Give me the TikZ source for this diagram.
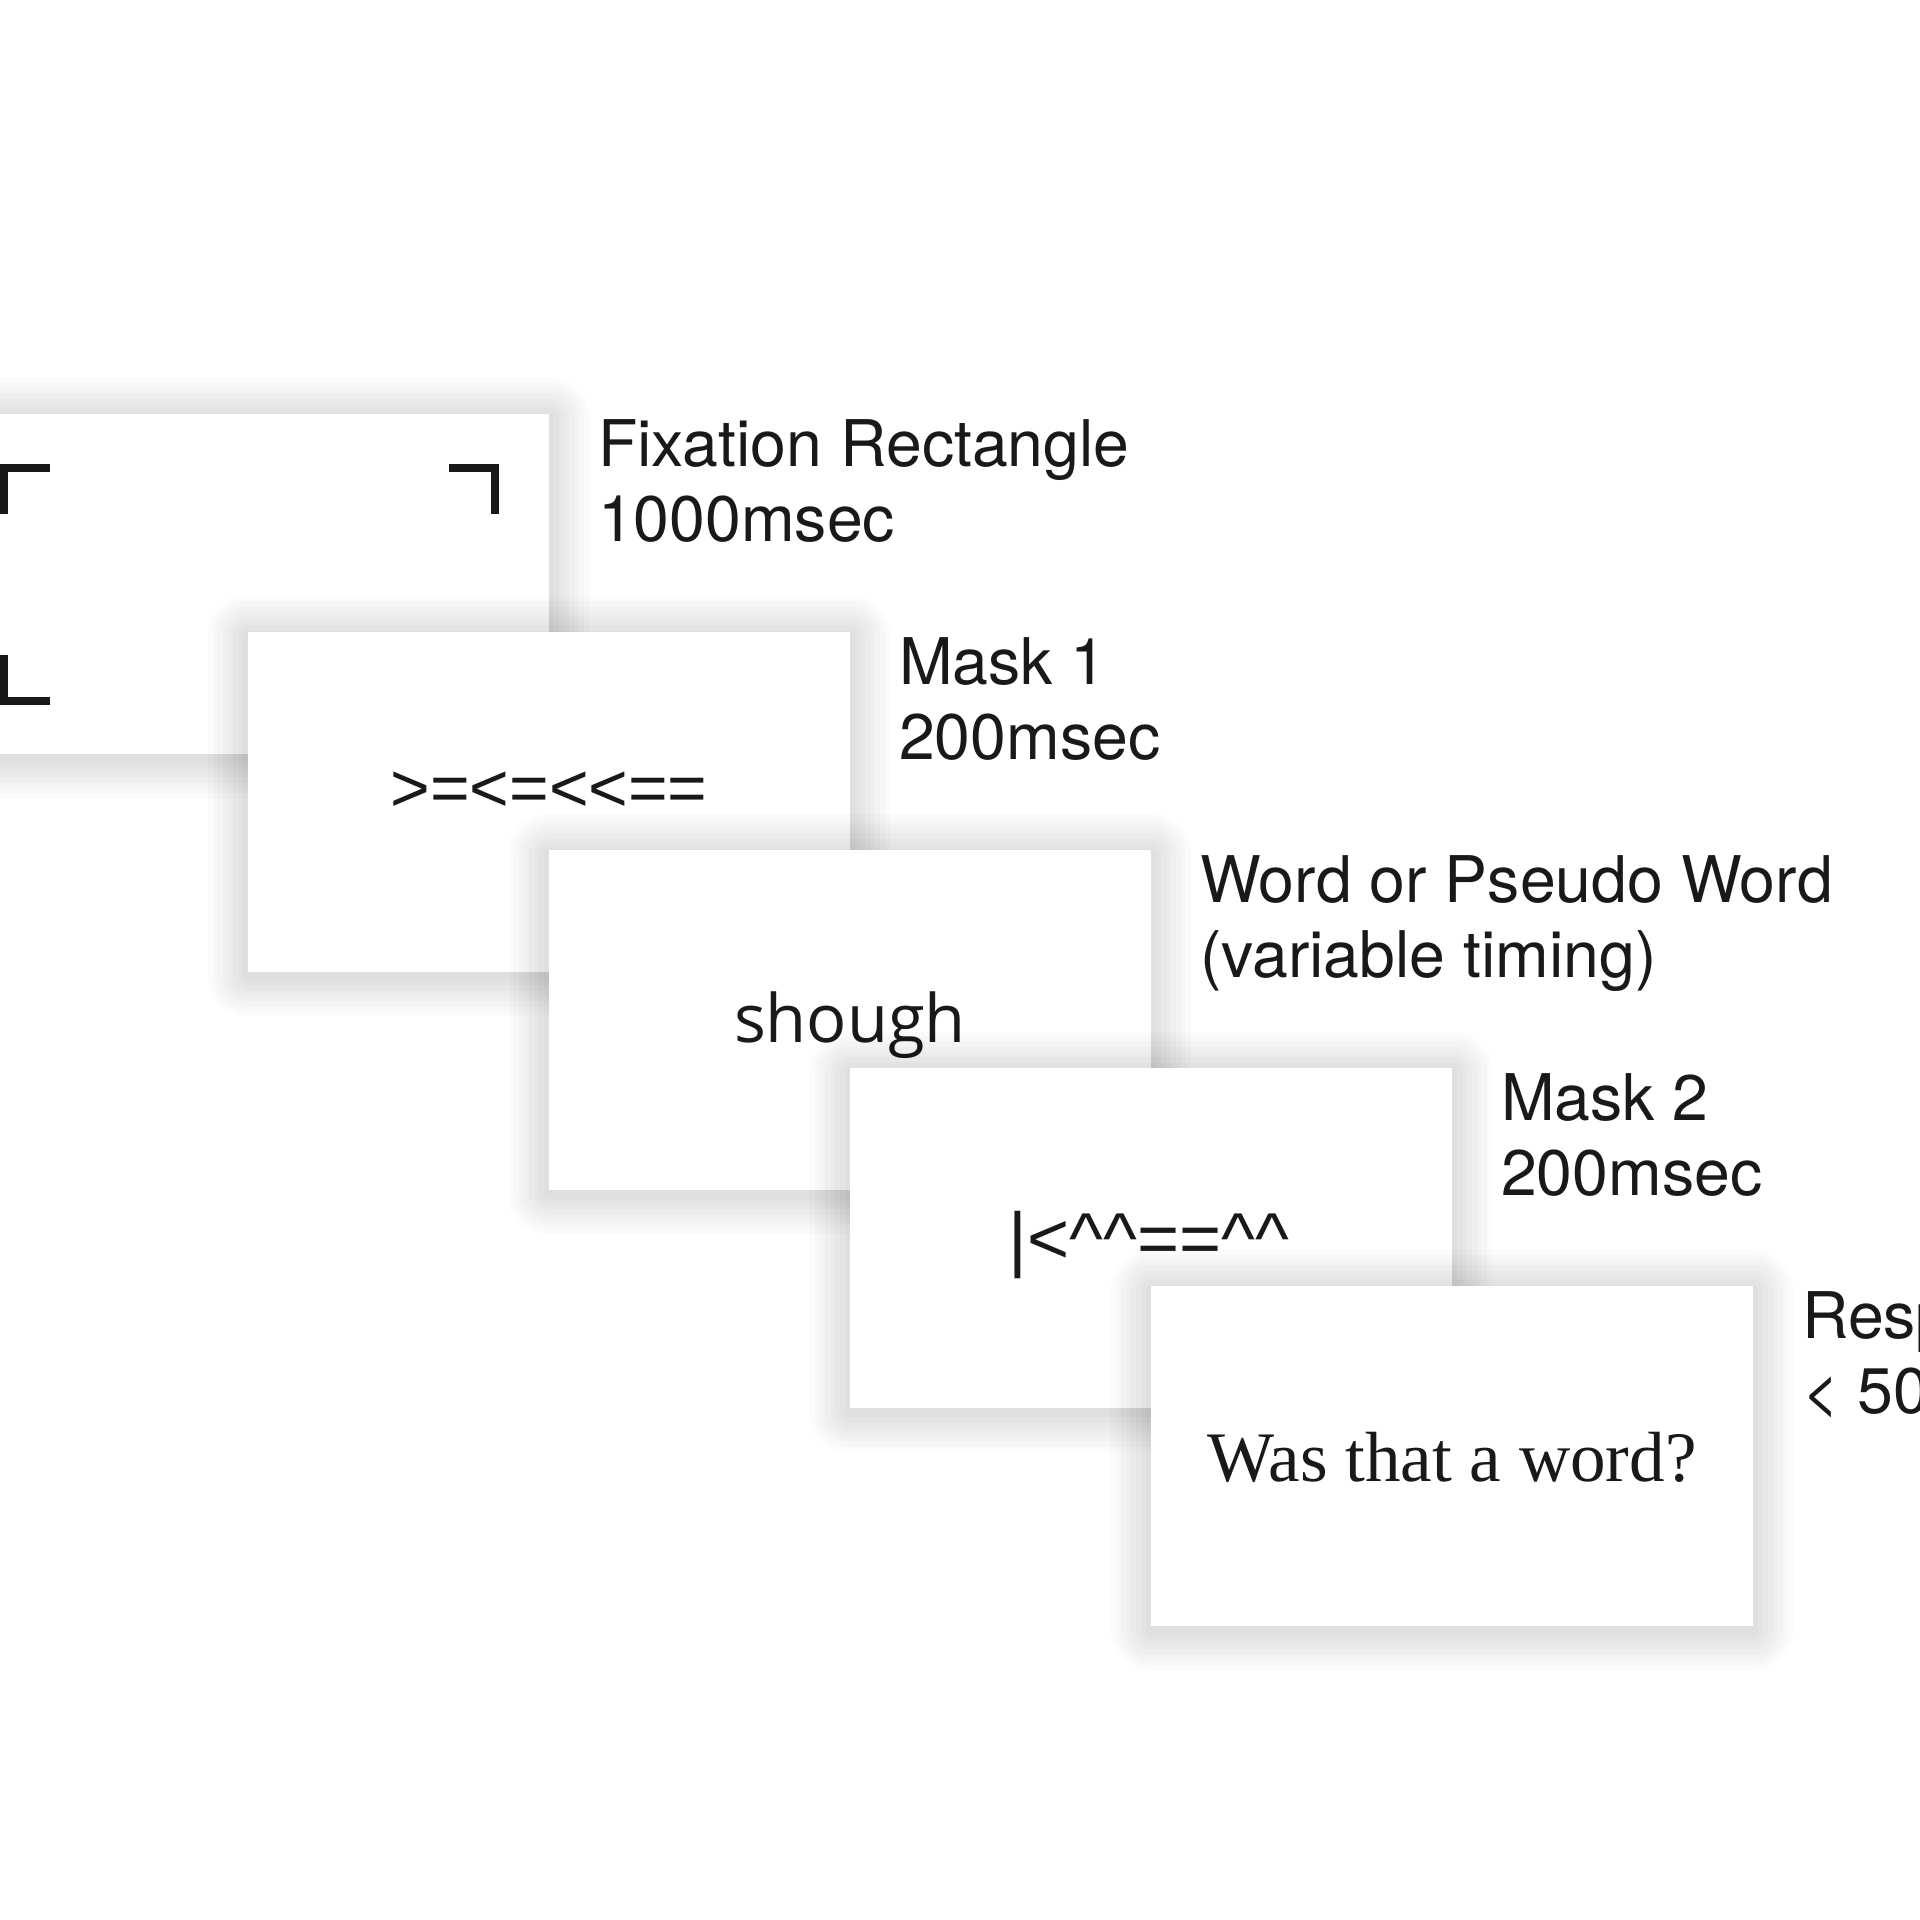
\documentclass[tikz,border=0pt]{standalone}
\usepackage{fontspec}
\setmainfont{TeX Gyre Heros}
\newfontfamily\maskfont{Liberation Sans}
\newfontfamily\wordfont{Open Sans}
\newfontfamily\askfont{Liberation Serif}
\usetikzlibrary{positioning}

\begin{document}
\begin{tikzpicture}[x=0.01cm,y=-0.01cm,
  haze/.style={draw=black, draw opacity=0.016, line width=#1, line join=round, transform canvas={yshift=-0.04cm}},
  screen/.style={fill=white, inner sep=0pt, minimum width=6.01cm, minimum height=3.39cm,
    preaction={haze=0.80cm}, preaction={haze=0.70cm}, preaction={haze=0.60cm}, preaction={haze=0.50cm},
    preaction={haze=0.40cm}, preaction={haze=0.30cm}, preaction={haze=0.20cm}, preaction={haze=0.10cm}},
  stimtext/.style={inner sep=0pt, anchor=base, text=black!90},
  steplabel/.style={inner sep=0pt, align=left, font=\fontsize{18.3pt}{21.3pt}\selectfont, text=black!90},
  fixmark/.style={line width=0.075cm, black!90}]
\useasboundingbox (0,0) rectangle (1920,1920);
\clip (0,0) rectangle (1920,1920);
\fill[white] (0,0) rectangle (1920,1920);

\node[screen] (fix) at (248,584) {};
\draw[fixmark] (4,514) -- (4,468) -- (50,468);
\draw[fixmark] (449,468) -- (495,468) -- (495,514);
\draw[fixmark] (4,655) -- (4,701) -- (50,701);
\draw[fixmark] (449,701) -- (495,701) -- (495,655);
\node[steplabel, below right=0.05cm and 0.48cm of fix.north east] (fixlabel) {Fixation Rectangle\\1000msec};

\node[screen] (maskone) at (549,802) {};
\node[stimtext, font=\maskfont\fontsize{19.3pt}{19pt}\selectfont] (maskonetext) at (549,811) {>=<=<<==};
\node[steplabel, below right=0.05cm and 0.48cm of maskone.north east] (maskonelabel) {Mask 1\\200msec};

\node[screen] (word) at (850,1020) {};
\node[stimtext, font=\wordfont\fontsize{19pt}{19pt}\selectfont] (wordtext) at (850,1042) {shough};
\node[steplabel, below right=0.05cm and 0.48cm of word.north east] (wordlabel) {Word or Pseudo Word\\(variable timing)};

\node[screen] (masktwo) at (1151,1238) {};
\node[stimtext, font=\maskfont\fontsize{20.5pt}{20pt}\selectfont] (masktwotext) at (1149,1263) {|<\textasciicircum\textasciicircum==\textasciicircum\textasciicircum};
\node[steplabel, below right=0.05cm and 0.48cm of masktwo.north east] (masktwolabel) {Mask 2\\200msec};

\node[screen] (resp) at (1452,1456) {};
\node[stimtext, font=\askfont\fontsize{20.2pt}{20.2pt}\selectfont] (resptext) at (1452,1481) {Was that a word?};
\node[steplabel, below right=0.05cm and 0.48cm of resp.north east] (resplabel) {Response\\< 5000msec};
\end{tikzpicture}
\end{document}
